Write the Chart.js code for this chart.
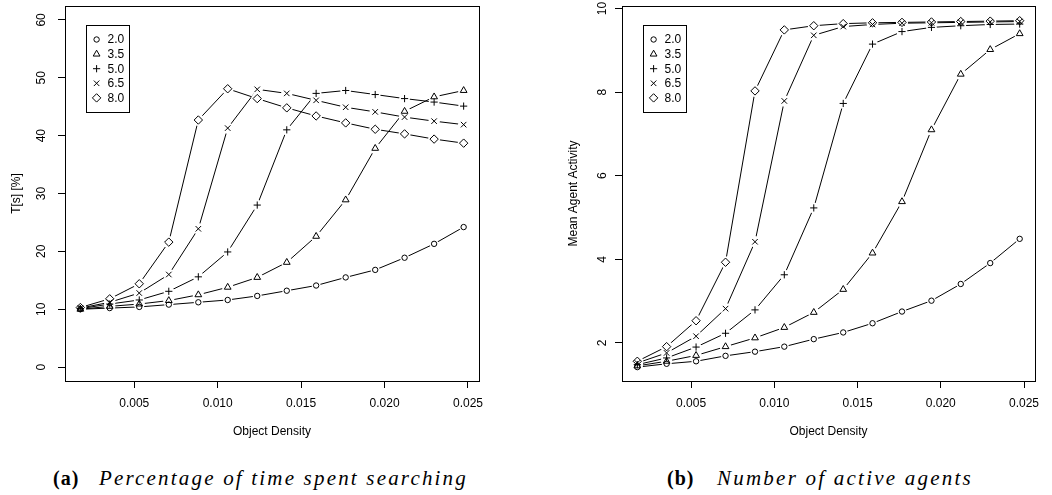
<!DOCTYPE html>
<html lang="en">
<head>
  <meta charset="UTF-8" />
  <title>Object density experiments</title>
  <script src="https://cdn.jsdelivr.net/npm/chart.js"></script>
  <style>
    body {
      margin: 0;
      background: #fff;
      width: 1052px;
      height: 495px;
      position: relative;
      overflow: hidden;
    }
    canvas {
      position: absolute;
      top: 0;
    }
    #chartA { left: 0; }
    #chartB { left: 526px; }
    .caption {
      position: absolute;
      top: 468px;
      font-family: 'Liberation Serif', 'DejaVu Serif', serif;
      font-size: 21px;
      line-height: 21px;
      color: #000;
      white-space: nowrap;
    }
    .caption b { position: absolute; left: 0; top: 0; font-size: 20px; letter-spacing: 1px; }
    .caption i { position: absolute; top: 0; }
  </style>
</head>
<body>
  <canvas id="chartA" width="526" height="440"></canvas>
  <canvas id="chartB" width="526" height="440"></canvas>

  <div class="caption" style="left:53px;"><b>(a)</b><i style="left:46px;" data-w="369">Percentage of time spent searching</i></div>
  <div class="caption" style="left:667px;"><b>(b)</b><i style="left:50px;" data-w="256">Number of active agents</i></div>

  <script>
    // x values (object density), shared by both panels
    const density = [0.00177, 0.00353, 0.0053, 0.00707, 0.00884, 0.0106, 0.01237,
                     0.01414, 0.0159, 0.01767, 0.01944, 0.0212, 0.02297, 0.02474];

    const seriesNames = ['2.0', '3.5', '5.0', '6.5', '8.0'];
    const markers = ['circle', 'triangle', 'cross', 'crossRot', 'rectRot'];
    const markerRadius = [2.7, 3.9, 3.6, 3.9, 4.2];

    // (a) T[s] [%]
    const search20 = [10.0, 10.2, 10.4, 10.8, 11.2, 11.6, 12.3, 13.2, 14.1, 15.5, 16.8, 18.9, 21.3, 24.2];
    const search35 = [10.0, 10.5, 10.9, 11.5, 12.5, 13.8, 15.5, 18.1, 22.6, 28.9, 37.8, 44.2, 46.7, 47.8];
    const search50 = [10.1, 10.9, 11.6, 13.1, 15.6, 19.9, 28.0, 41.0, 47.3, 47.8, 47.1, 46.4, 45.8, 45.1];
    const search65 = [10.2, 11.2, 12.8, 16.0, 23.9, 41.3, 48.0, 47.3, 46.1, 44.9, 44.1, 43.2, 42.5, 41.9];
    const search80 = [10.3, 11.8, 14.4, 21.6, 42.7, 48.1, 46.4, 44.8, 43.4, 42.2, 41.1, 40.3, 39.4, 38.7];

    // (b) Mean Agent Activity
    const activity20 = [1.42, 1.50, 1.56, 1.69, 1.79, 1.91, 2.09, 2.25, 2.47, 2.75, 3.01, 3.41, 3.91, 4.49];
    const activity35 = [1.45, 1.56, 1.70, 1.91, 2.12, 2.37, 2.73, 3.28, 4.15, 5.38, 7.10, 8.43, 9.02, 9.40];
    const activity50 = [1.48, 1.64, 1.90, 2.23, 2.79, 3.63, 5.23, 7.73, 9.15, 9.45, 9.55, 9.59, 9.62, 9.63];
    const activity65 = [1.52, 1.76, 2.16, 2.82, 4.42, 7.79, 9.36, 9.57, 9.62, 9.65, 9.66, 9.67, 9.68, 9.69];
    const activity80 = [1.56, 1.91, 2.53, 3.93, 8.03, 9.49, 9.59, 9.64, 9.66, 9.67, 9.68, 9.69, 9.70, 9.71];

    const xTicks = [0.005, 0.010, 0.015, 0.020, 0.025];
    const xTickLabels = ['0.005', '0.010', '0.015', '0.020', '0.025'];
    const yTicksA = [0, 10, 20, 30, 40, 50, 60];
    const yTickLabelsA = ['0', '10', '20', '30', '40', '50', '60'];
    const yTicksB = [2, 4, 6, 8, 10];
    const yTickLabelsB = ['2', '4', '6', '8', '10'];

    Chart.defaults.font.family = "'Liberation Sans', Arial, sans-serif";
    Chart.defaults.font.size = 12;
    Chart.defaults.color = '#000';

    const FONT = "12px 'Liberation Sans', Arial, sans-serif";

    function buildDatasets(seriesList) {
      const lines = [], halos = [], points = [];
      seriesList.forEach((vals, i) => {
        const data = density.map((x, j) => ({ x, y: vals[j] }));
        lines.push({
          label: 'line ' + seriesNames[i], data, order: 3, showLine: true,
          borderColor: '#000', borderWidth: 1, pointRadius: 0, fill: false, tension: 0
        });
        halos.push({
          label: 'halo ' + seriesNames[i], data, order: 2, showLine: false,
          pointStyle: 'circle', pointRadius: markerRadius[i] + 1.8,
          pointBackgroundColor: '#fff', pointBorderColor: 'rgba(0,0,0,0)', pointBorderWidth: 0
        });
        points.push({
          label: seriesNames[i], data, order: 1, showLine: false,
          pointStyle: markers[i], pointRadius: markerRadius[i],
          pointBackgroundColor: 'rgba(0,0,0,0)', pointBorderColor: '#000', pointBorderWidth: 1
        });
      });
      return lines.concat(halos, points);
    }

    // box, rotated y labels, y title and the legend, R style
    const rStyle = {
      id: 'rStyle',
      afterDraw(chart, args, opts) {
        const ctx = chart.ctx;
        const area = chart.chartArea;
        const ys = chart.scales.y;
        ctx.save();
        ctx.strokeStyle = '#000';
        ctx.lineWidth = 1;
        ctx.strokeRect(Math.round(area.left) + 0.5, Math.round(area.top) + 0.5,
                       Math.round(area.right - area.left), Math.round(area.bottom - area.top));

        ctx.fillStyle = '#000';
        ctx.font = FONT;
        ctx.textAlign = 'center';
        ctx.textBaseline = 'middle';
        ys.ticks.forEach((t, i) => {
          const y = ys.getPixelForValue(t.value);
          ctx.save();
          ctx.translate(opts.labelX, y);
          ctx.rotate(-Math.PI / 2);
          ctx.fillText(opts.yLabels[i], 0, 0);
          ctx.restore();
        });
        ctx.save();
        ctx.translate(opts.titleX, (area.top + area.bottom) / 2);
        ctx.rotate(-Math.PI / 2);
        ctx.fillText(opts.yTitle, 0, 0);
        ctx.restore();

        // legend box
        const bx = area.left + 21, by = area.top + 19;
        ctx.strokeRect(Math.round(bx) + 0.5, Math.round(by) + 0.5, 43, 87);
        ctx.textAlign = 'left';
        seriesNames.forEach((name, i) => {
          const ry = by + 14.5 + i * 14.6;
          ctx.fillStyle = 'rgba(0,0,0,0)';
          Chart.helpers.drawPoint(ctx, {
            pointStyle: markers[i], radius: markerRadius[i], borderWidth: 1
          }, bx + 10.6, ry);
          ctx.fillStyle = '#000';
          ctx.fillText(name, bx + 21.5, ry + 0.5);
        });
        ctx.restore();
      }
    };

    function makeChart(id, seriesList, yMin, yMax, yTicks, yLabels, yTitle, yWidth, padRight, labelX, titleX) {
      return new Chart(document.getElementById(id), {
        type: 'scatter',
        data: { datasets: buildDatasets(seriesList) },
        options: {
          responsive: false,
          animation: false,
          events: [],
          layout: { padding: { left: 0, right: padRight, top: 4, bottom: 0 } },
          plugins: {
            legend: { display: false },
            tooltip: { enabled: false },
            rStyle: { labelX, titleX, yTitle, yLabels }
          },
          scales: {
            x: {
              type: 'linear',
              min: 0.00085, max: 0.02566,
              afterBuildTicks: s => { s.ticks = xTicks.map(v => ({ value: v })); },
              afterFit: s => { s.height = 59; },
              ticks: {
                padding: 8,
                maxRotation: 0,
                autoSkip: false,
                callback: (v) => xTickLabels[xTicks.indexOf(v)] ?? ''
              },
              grid: { drawOnChartArea: false, drawTicks: true, tickLength: 7, color: '#000', lineWidth: 1 },
              border: { display: false },
              title: { display: true, text: 'Object Density', padding: { top: 0, bottom: 1 } }
            },
            y: {
              type: 'linear',
              min: yMin, max: yMax,
              afterBuildTicks: s => { s.ticks = yTicks.map(v => ({ value: v })); },
              afterFit: s => { s.width = yWidth; },
              ticks: { display: false },
              grid: { drawOnChartArea: false, drawTicks: true, tickLength: 7, color: '#000', lineWidth: 1 },
              border: { display: false }
            }
          }
        },
        plugins: [rStyle]
      });
    }

    makeChart('chartA', [search20, search35, search50, search65, search80],
      -2.4, 62.4, yTicksA, yTickLabelsA, 'T[s] [%]', 65, 47, 42, 17);
    makeChart('chartB', [activity20, activity35, activity50, activity65, activity80],
      1.088, 10.062, yTicksB, yTickLabelsB, 'Mean Agent Activity', 96, 17, 77, 47.5);

    // stretch the italic caption text to the width it has in the figure
    document.querySelectorAll('.caption i').forEach(el => {
      const target = parseFloat(el.dataset.w);
      const n = el.textContent.length;
      const w = el.getBoundingClientRect().width;
      el.style.letterSpacing = ((target - w) / n) + 'px';
    });
  </script>
</body>
</html>
